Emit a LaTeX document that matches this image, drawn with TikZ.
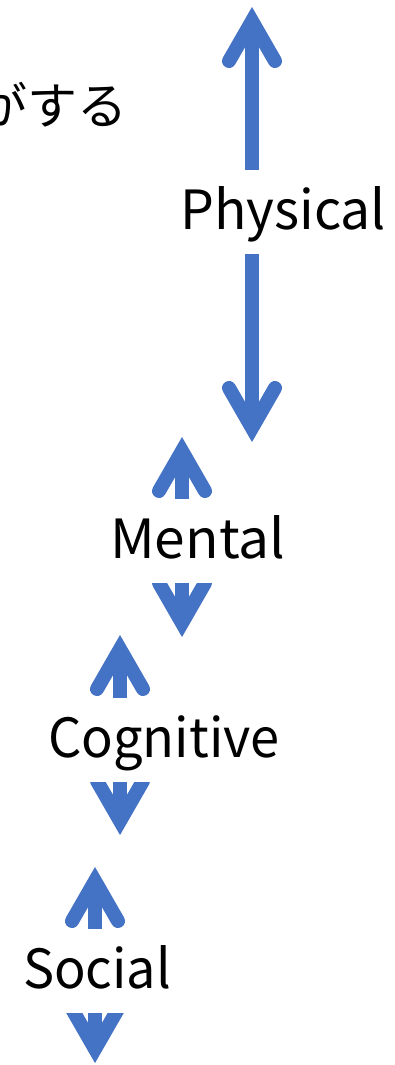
\documentclass[tikz,border=0pt]{standalone}
\usepackage{fontspec}
\setmainfont{Noto Sans CJK JP}
\definecolor{arrblue}{HTML}{4472C4}
\begin{document}
\begin{tikzpicture}[x=1pt,y=-1pt,
  shaft/.style={draw=arrblue, line width=14pt},
  head/.style={draw=arrblue, line width=14pt, line cap=round, line join=miter, miter limit=10},
  lbl/.style={fill=white, inner xsep=0pt, inner ysep=0pt, minimum height=84pt,
    text height=40pt, text depth=5pt, anchor=west, font=\fontsize{54}{54}\selectfont}]
\useasboundingbox (0,0) rectangle (395,1065);
\clip (0,0) rectangle (395,1065);
% double arrows
\coordinate (pT) at (252,21);  \coordinate (pB) at (252,428);
\coordinate (mT) at (182,451); \coordinate (mB) at (182,623);
\coordinate (cT) at (120,649); \coordinate (cB) at (120,821);
\coordinate (sT) at (95,881);  \coordinate (sB) at (95,1049);
\foreach \t/\b in {pT/pB, mT/mB, cT/cB, sT/sB}{
  \draw[shaft] (\t) -- (\b);
  \draw[head] (\t) ++(-23,40) -- (\t) -- ++(23,40);
  \draw[head] (\b) ++(-23,-40) -- (\b) -- ++(23,-40);
}
% labels (white boxes hide the middle of each arrow)
\node[lbl] (phys) at (180,212) {\scalebox{0.99}[1]{Physical}};
\node[lbl] (ment) at (110,541) {\scalebox{1.02}[1]{Mental}};
\node[lbl] (cogn) at (48,740)  {\scalebox{0.97}[1]{Cognitive}};
\node[lbl] (soc)  at (23,971)  {\scalebox{0.967}[1]{Social}};
\node[font=\fontsize{50}{50}\selectfont, anchor=east, inner sep=0pt] (jp) at (128,105) {がする};
\end{tikzpicture}
\end{document}
